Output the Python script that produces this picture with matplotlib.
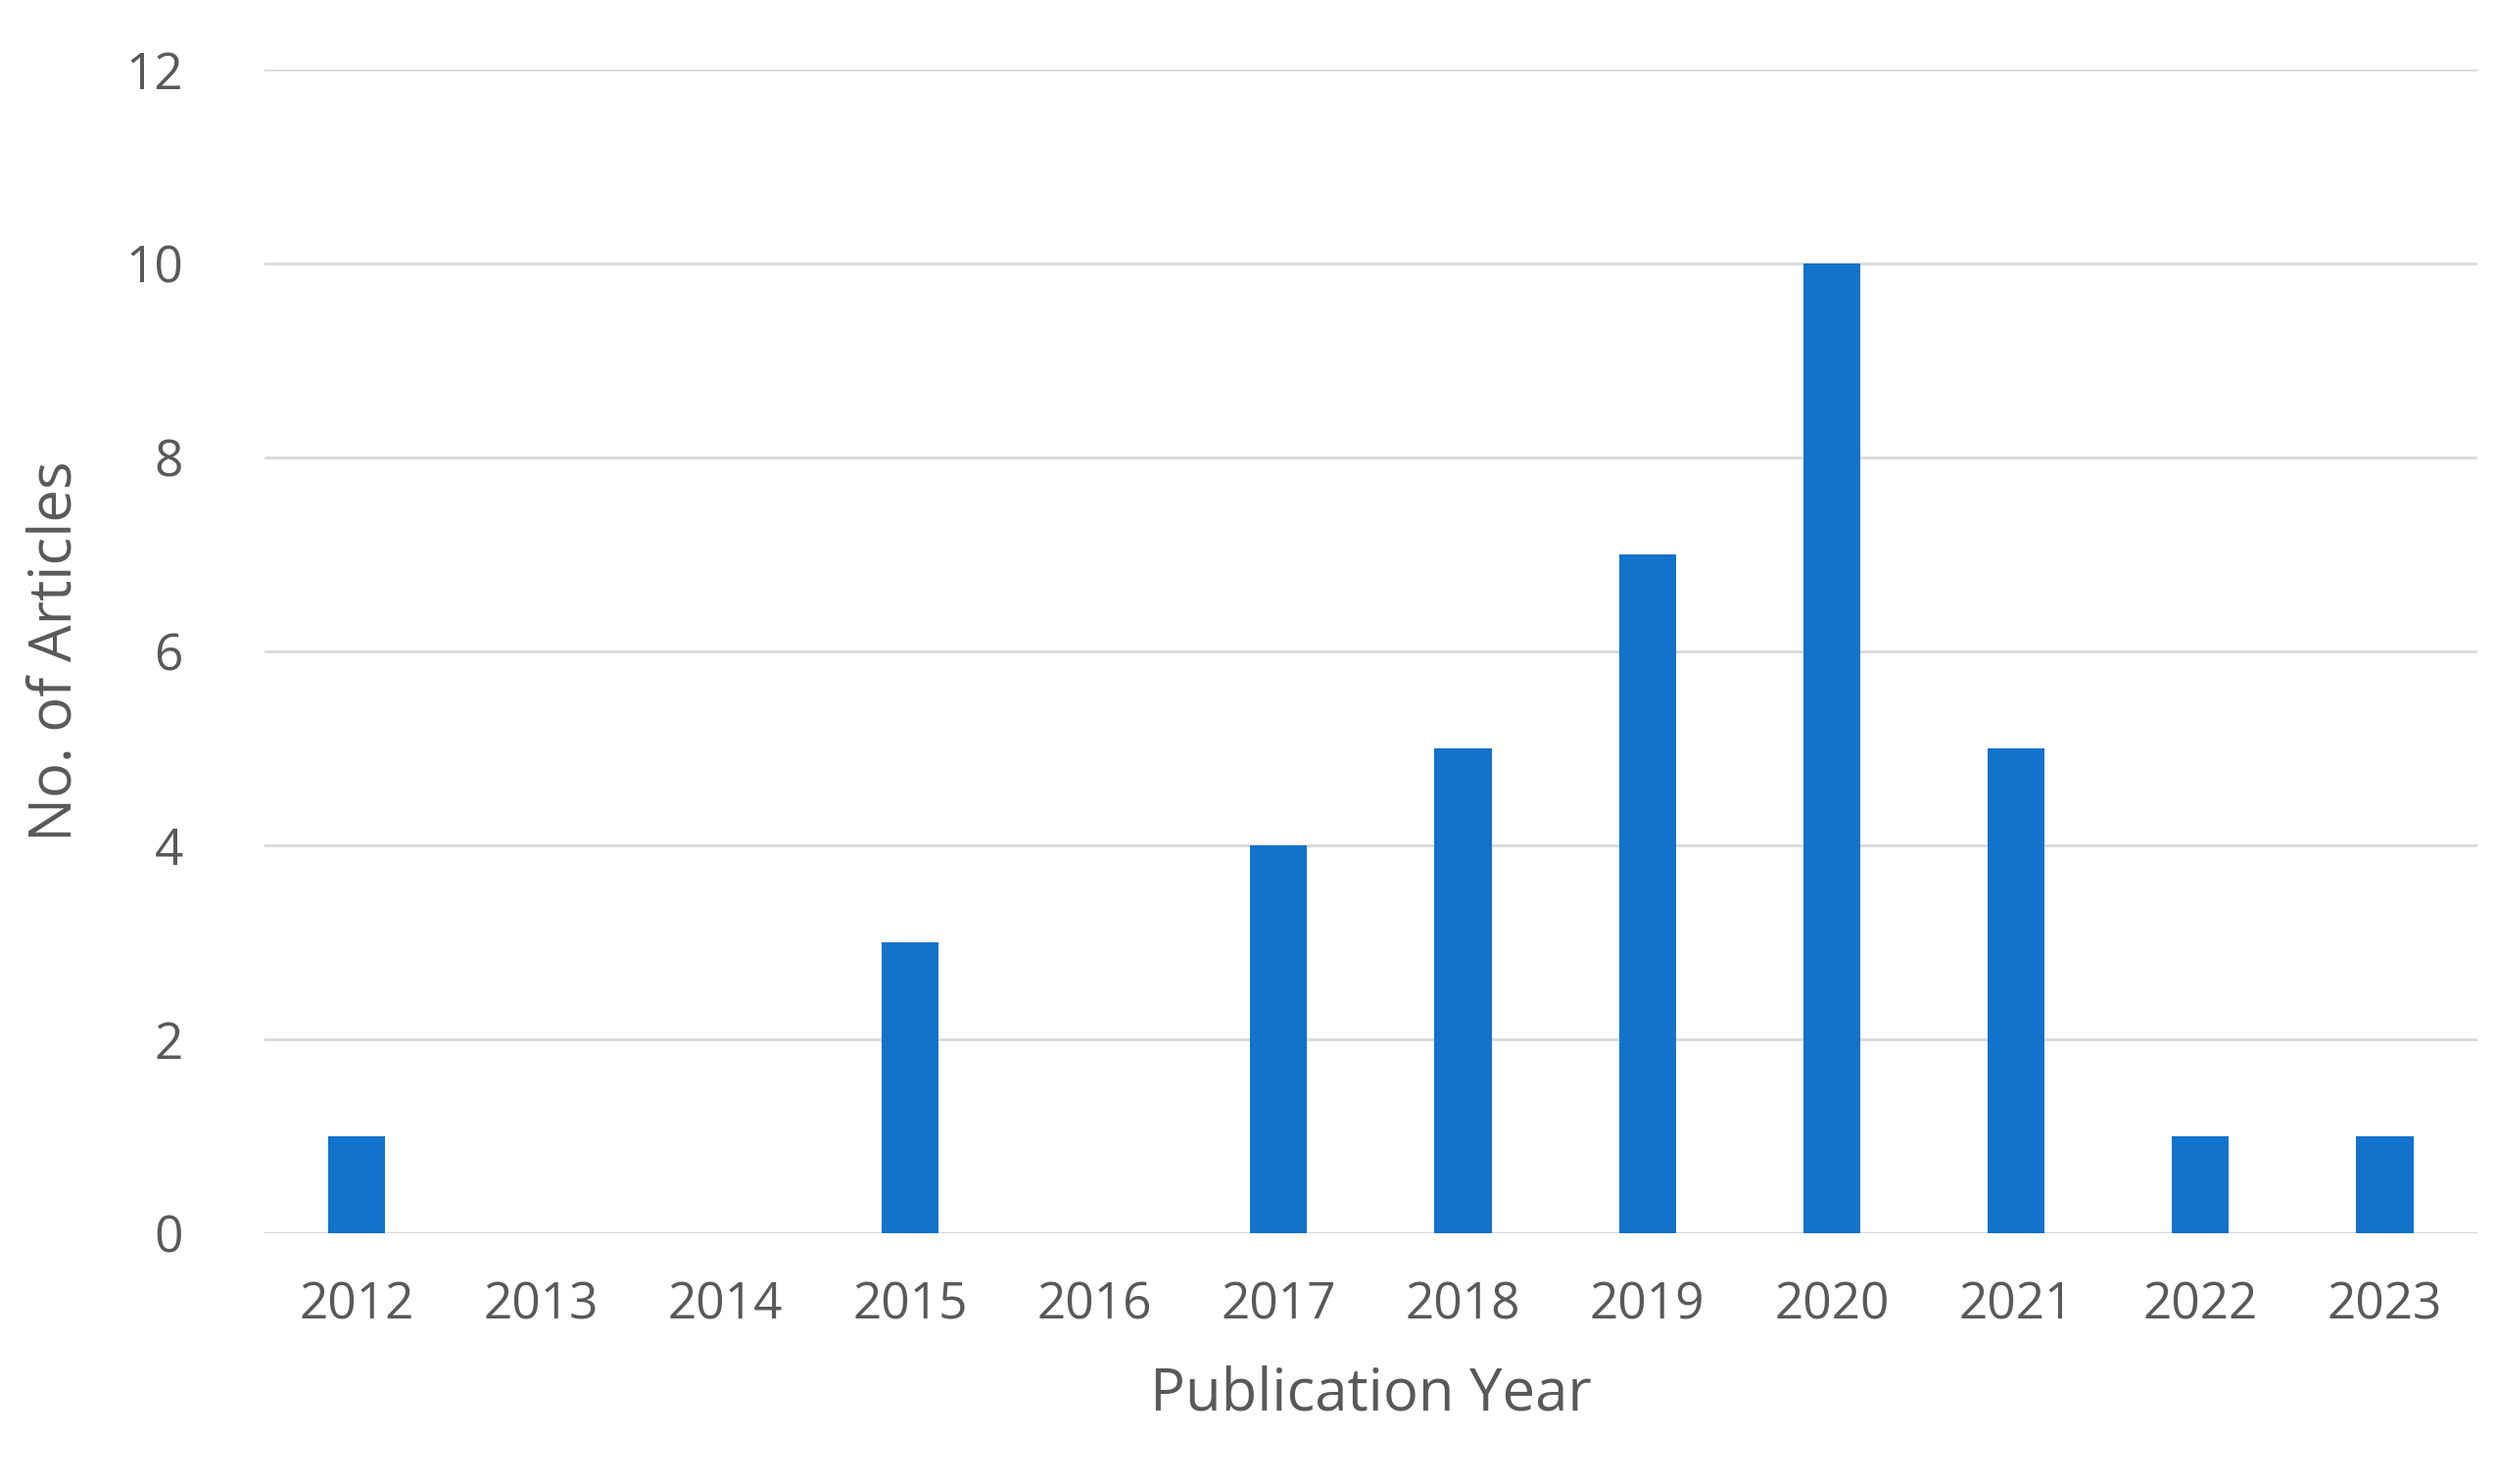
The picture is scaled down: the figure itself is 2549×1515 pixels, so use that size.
import matplotlib
matplotlib.use("Agg")
import matplotlib.pyplot as plt

years = ["2012","2013","2014","2015","2016","2017","2018","2019","2020","2021","2022","2023"]
counts = [1,0,0,3,0,4,5,7,10,5,1,1]
yticks = [0,2,4,6,8,10,12]

plt.rcParams['font.family'] = ['Open Sans', 'DejaVu Sans']
fig = plt.figure(figsize=(25.49,15.15), dpi=100)
ax = fig.add_axes([0.106,0.169,0.886,0.784])
x = list(range(len(years)))
ax.bar(x, counts, width=0.31, color="#1372CC", zorder=3)
ax.set_xlim(-0.5, len(years)-0.5)
ax.set_ylim(0,12)
ax.set_yticks(yticks)
ax.set_xticks(x)
ax.set_xticklabels(years)
ax.grid(axis='y', color='#D9D9D9', linewidth=2, zorder=0)
for s in ax.spines.values():
    s.set_visible(False)
ax.axhline(0, color='#D9D9D9', linewidth=2.5, zorder=2)
ax.tick_params(length=0, labelsize=37, colors='#595959', pad=35)
ax.tick_params(axis='y', pad=60)
ax.set_xlabel("Publication Year", fontsize=43, color='#595959', labelpad=25)
ax.set_ylabel("No. of Articles", fontsize=43, color='#595959', labelpad=30)
fig.savefig("out.png", dpi=100, facecolor='white')
